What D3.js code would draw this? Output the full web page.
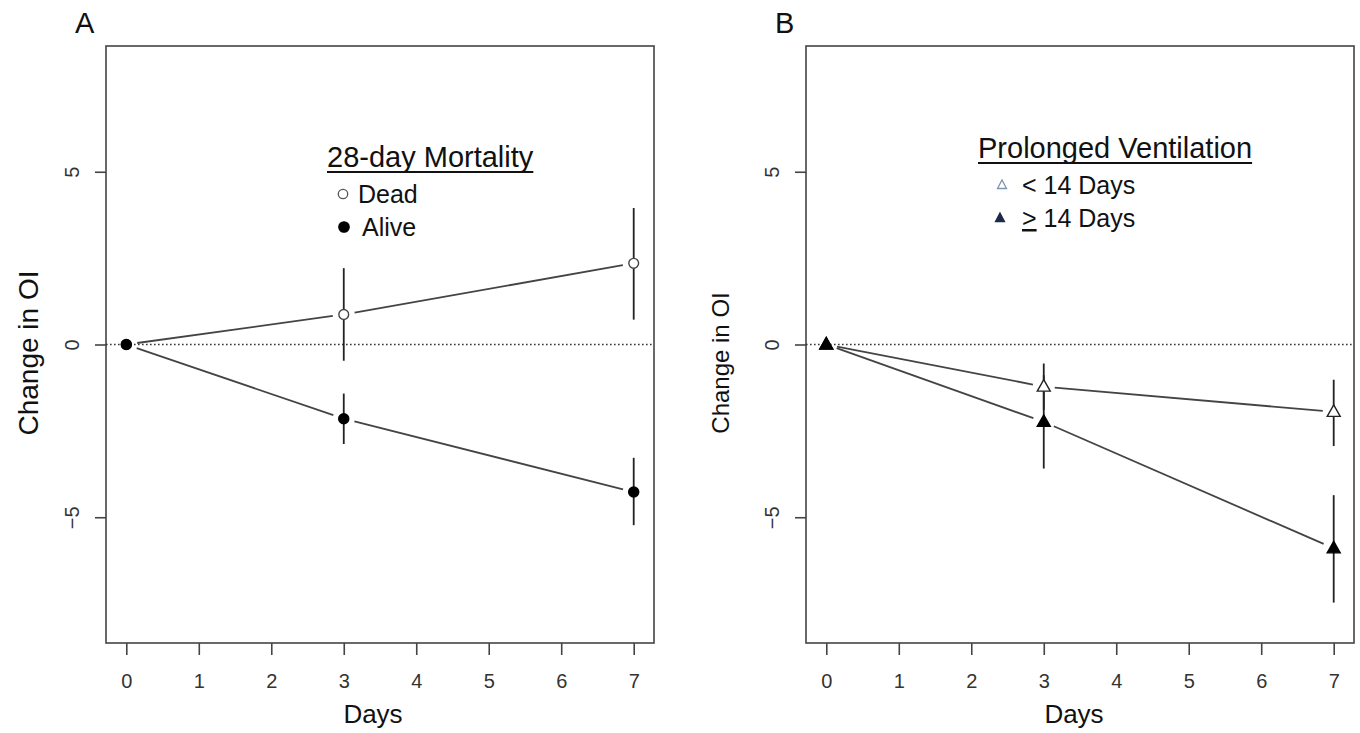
<!DOCTYPE html>
<meta charset="utf-8">
<style>
body { margin: 0; background: #fff; }
text { font-family: "Liberation Sans", Arial, sans-serif; fill: #111; }
.tick-label { fill: #333; }
</style>
<svg width="1360" height="733"></svg>
<script src="https://d3js.org/d3.v7.min.js"></script>
<script>

// data
var days = [0, 3, 7];
var xTicks = [0, 1, 2, 3, 4, 5, 6, 7];
var yTicks = [-5, 0, 5];

var deadMean  = [0, 0.87, 2.35];
var deadLo    = [0, -0.47, 0.72];
var deadHi    = [0, 2.21, 3.95];
var aliveMean = [0, -2.15, -4.27];
var aliveLo   = [0, -2.88, -5.23];
var aliveHi   = [0, -1.42, -3.28];

var shortMean = [0, -1.22, -1.95];
var shortLo   = [0, -1.89, -2.94];
var shortHi   = [0, -0.55, -1.02];
var longMean  = [0, -2.24, -5.9];
var longLo    = [0, -3.59, -7.47];
var longHi    = [0, -0.89, -4.36];

var svg = d3.select("svg");

function rows(mean, lo, hi) {
  return days.map(function(d, i) { return { day: d, v: mean[i], lo: lo[i], hi: hi[i] }; });
}

var y = d3.scaleLinear().domain([-8.64, 8.64]).range([643, 46]);

function panel(cfg) {
  var x = d3.scaleLinear().domain([-0.28, 7.28]).range([cfg.left, cfg.left + 548]);
  var g = svg.append("g");

  // box
  g.append("rect")
    .attr("x", x.range()[0]).attr("y", y.range()[1])
    .attr("width", x.range()[1] - x.range()[0])
    .attr("height", y.range()[0] - y.range()[1])
    .attr("fill", "none").attr("stroke", "#444").attr("stroke-width", 1.6);

  // x axis
  var xa = g.append("g").attr("transform", "translate(0," + y.range()[0] + ")")
    .call(d3.axisBottom(x).tickValues(xTicks).tickSize(12).tickPadding(19));
  xa.select(".domain").remove();
  xa.selectAll("line").attr("stroke", "#444").attr("stroke-width", 1.6);
  xa.selectAll("text").attr("class", "tick-label")
    .style("font-size", "20px").style("font-family", "Liberation Sans, Arial, sans-serif");

  // y axis, labels turned like R does
  var ya = g.append("g").attr("transform", "translate(" + x.range()[0] + ",0)")
    .call(d3.axisLeft(y).tickValues(yTicks).tickSize(11).tickFormat(d3.format("d")));
  ya.select(".domain").remove();
  ya.selectAll("line").attr("stroke", "#444").attr("stroke-width", 1.6);
  ya.selectAll("text").attr("class", "tick-label")
    .attr("x", null).attr("dy", null)
    .style("font-size", "20px").style("font-family", "Liberation Sans, Arial, sans-serif")
    .attr("text-anchor", "middle")
    .attr("transform", "translate(-34,0) rotate(-90) translate(0,7)");

  // zero reference
  g.append("line")
    .attr("x1", x.range()[0]).attr("x2", x.range()[1])
    .attr("y1", y(0)).attr("y2", y(0))
    .attr("stroke", "#333").attr("stroke-width", 1.4).attr("stroke-dasharray", "1.6,2.4");

  // titles
  svg.append("text").attr("x", cfg.left - 31).attr("y", 33)
    .style("font-size", "29px").text(cfg.letter);
  svg.append("text").attr("x", cfg.xlabX).attr("y", 723)
    .attr("text-anchor", "middle").style("font-size", "26px").text("Days");
  svg.append("text")
    .attr("transform", "translate(" + cfg.ylabX + "," + cfg.ylabY + ") rotate(-90)")
    .attr("text-anchor", "middle").style("font-size", cfg.ylabSize + "px").text("Change in OI");

  // series: segments with a gap at each point, error bars, markers
  var gap = 11;
  cfg.series.forEach(function(s) {
    var pts = s.data.map(function(d) { return [x(d.day), y(d.v)]; });
    for (var i = 0; i < pts.length - 1; i++) {
      var a = pts[i], b = pts[i + 1];
      var dx = b[0] - a[0], dy = b[1] - a[1], len = Math.sqrt(dx * dx + dy * dy);
      g.append("line")
        .attr("x1", a[0] + dx / len * gap).attr("y1", a[1] + dy / len * gap)
        .attr("x2", b[0] - dx / len * gap).attr("y2", b[1] - dy / len * gap)
        .attr("stroke", "#444").attr("stroke-width", 1.8);
    }
  });
  cfg.series.forEach(function(s) {
    g.selectAll(null).data(s.data.filter(function(d) { return d.hi !== d.lo; }))
      .enter().append("line")
      .attr("x1", function(d) { return x(d.day); }).attr("x2", function(d) { return x(d.day); })
      .attr("y1", function(d) { return y(d.hi); }).attr("y2", function(d) { return y(d.lo); })
      .attr("stroke", "#222").attr("stroke-width", 1.8);
  });
  cfg.series.forEach(function(s) {
    g.selectAll(null).data(s.data).enter().append("path")
      .attr("transform", function(d) { return "translate(" + x(d.day) + "," + y(d.v) + ")"; })
      .attr("d", s.shape)
      .attr("fill", s.fill).attr("stroke", s.stroke).attr("stroke-width", 1.4);
  });

  // legend
  var lg = cfg.legend;
  var head = svg.append("text").attr("x", lg.x).attr("y", lg.y)
    .style("font-size", "29px").text(lg.title);
  var w = head.node().getComputedTextLength();
  svg.append("line").attr("x1", lg.x).attr("x2", lg.x + w)
    .attr("y1", lg.y + 5).attr("y2", lg.y + 5).attr("stroke", "#111").attr("stroke-width", 2);
  lg.items.forEach(function(it, i) {
    var cy = lg.y + 27 + i * 33;
    svg.append("path").attr("transform", "translate(" + (lg.x + it.dx) + "," + cy + ")")
      .attr("d", it.shape).attr("fill", it.fill).attr("stroke", it.stroke).attr("stroke-width", 1.3);
    var t = svg.append("text").attr("x", lg.x + it.tx).attr("y", cy + 9).style("font-size", "25px");
    if (it.under) {
      t.append("tspan").style("text-decoration", "underline").text(it.under);
      t.append("tspan").text(it.label);
    } else {
      t.text(it.label);
    }
  });
}

var circle = d3.symbol().type(d3.symbolCircle).size(75)();
var dot = d3.symbol().type(d3.symbolCircle).size(80)();
var tri = "M0,-7L6.5,4.5L-6.5,4.5Z";
var triSmall = "M0,-5L4.5,3.5L-4.5,3.5Z";

panel({
  left: 106, letter: "A", xlabX: 373, ylabX: 38, ylabY: 353, ylabSize: 28,
  series: [
    { data: rows(deadMean, deadLo, deadHi), shape: circle, fill: "#fff", stroke: "#444" },
    { data: rows(aliveMean, aliveLo, aliveHi), shape: dot, fill: "#000", stroke: "#000" }
  ],
  legend: {
    x: 327, y: 167, title: "28-day Mortality",
    items: [
      { label: "Dead", shape: d3.symbol().type(d3.symbolCircle).size(70)(), fill: "#fff", stroke: "#555", dx: 16, tx: 31 },
      { label: "Alive", shape: d3.symbol().type(d3.symbolCircle).size(85)(), fill: "#000", stroke: "#000", dx: 17, tx: 35 }
    ]
  }
});

panel({
  left: 806, letter: "B", xlabX: 1074, ylabX: 729, ylabY: 363, ylabSize: 24,
  series: [
    { data: rows(shortMean, shortLo, shortHi), shape: tri, fill: "#fff", stroke: "#222" },
    { data: rows(longMean, longLo, longHi), shape: tri, fill: "#000", stroke: "#000" }
  ],
  legend: {
    x: 978, y: 158, title: "Prolonged Ventilation",
    items: [
      { label: "< 14 Days", shape: triSmall, fill: "#fff", stroke: "#7f93b3", dx: 24, tx: 44 },
      { label: " 14 Days", under: ">", shape: triSmall, fill: "#1c2a48", stroke: "#1c2a48", dx: 22, tx: 44 }
    ]
  }
});

</script>
